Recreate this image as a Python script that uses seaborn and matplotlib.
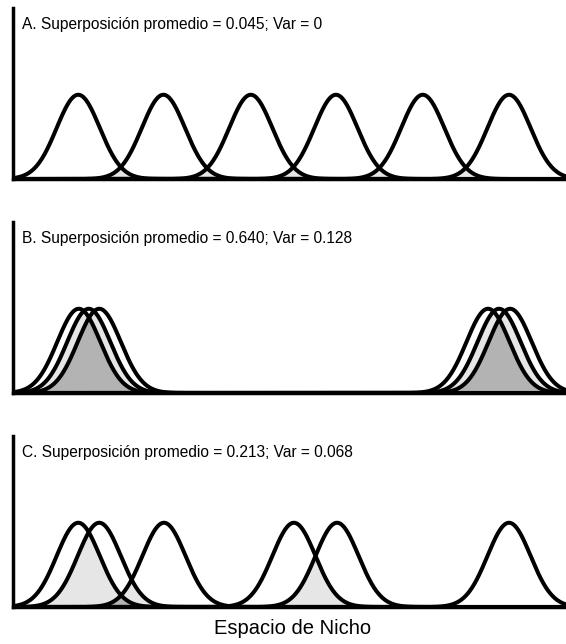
import numpy as np
import pandas as pd
import matplotlib
matplotlib.use("Agg")
import matplotlib.pyplot as plt
import seaborn as sns

sns.set_theme(style="white")
plt.rcParams['font.family'] = ['Liberation Sans', 'DejaVu Sans']

# Niche width (sd) and niche positions (means) for the six species in each scenario
niche_sd = 3.9
means_A = [11.8, 27.2, 43.0, 58.4, 74.1, 89.7]
means_B = [11.9, 13.7, 15.6, 85.9, 87.9, 89.9]
means_C = [11.8, 15.6, 27.3, 50.8, 58.6, 89.7]
panel_means = [means_A, means_B, means_C]
titles = [
    "A. Superposición promedio = 0.045; Var = 0",
    "B. Superposición promedio = 0.640; Var = 0.128",
    "C. Superposición promedio = 0.213; Var = 0.068",
]
xlabel = "Espacio de Nicho"

W, H = 566, 644
fig = plt.figure(figsize=(W / 100, H / 100), dpi=100)
baselines = [179, 393, 607]
ax_h = 171
x = np.linspace(0, 100, 3001)

for i, (means, title, base) in enumerate(zip(panel_means, titles, baselines)):
    ax = fig.add_axes([13 / W, (H - base) / H, 553 / W, ax_h / H])
    dens = np.array([np.exp(-0.5 * ((x - m) / niche_sd) ** 2) for m in means])
    srt = np.sort(dens, axis=0)
    ax.fill_between(x, 0, srt[-2], color='#e6e6e6', lw=0, zorder=1)
    ax.fill_between(x, 0, srt[-3], color='#b3b3b3', lw=0, zorder=1.5)
    df = pd.DataFrame({
        'x': np.tile(x, len(means)),
        'y': dens.ravel(),
        'sp': np.repeat(np.arange(len(means)), len(x)),
    })
    sns.lineplot(data=df, x='x', y='y', units='sp', estimator=None,
                 color='black', lw=2.9, ax=ax, legend=False, zorder=3)
    ax.set_xlim(0, 100)
    ax.set_ylim(0, 2.03)
    ax.set_xticks([])
    ax.set_yticks([])
    ax.set_ylabel('')
    ax.set_xlabel('')
    for s in ['top', 'right']:
        ax.spines[s].set_visible(False)
    for s in ['left', 'bottom']:
        ax.spines[s].set_color('black')
        ax.spines[s].set_linewidth(2.5)
        ax.spines[s].set_zorder(4)
    ax.text((21.5 - 13) / 553, 1 - 16 / ax_h, title, transform=ax.transAxes,
            ha='left', va='center', fontsize=11.2, color='black')
    if i == 2:
        ax.set_xlabel(xlabel, fontsize=14.5, color='black')
        ax.xaxis.label.set_va('center')
        ax.xaxis.set_label_coords(0.5 + 3 / 553, (base - 628) / ax_h)

fig.savefig("out.png", dpi=100)
